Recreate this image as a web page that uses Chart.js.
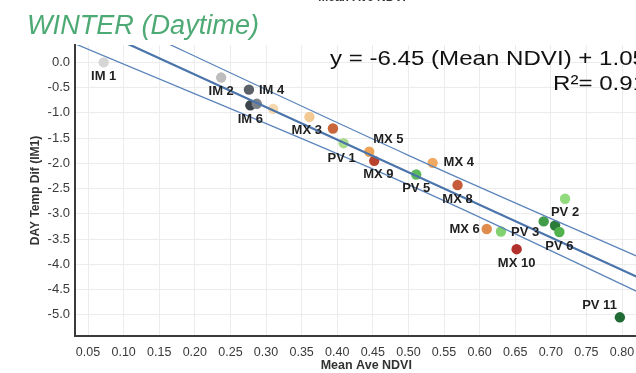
<!DOCTYPE html>
<html>
<head>
<meta charset="utf-8">
<script src="https://cdn.jsdelivr.net/npm/chart.js@4/dist/chart.umd.min.js"></script>
<style>
  html, body { margin: 0; padding: 0; background: #ffffff; overflow: hidden; width: 636px; height: 373px; }
  #wrap { position: absolute; left: 0; top: 0; width: 670px; height: 373px; }
</style>
</head>
<body>
<div id="wrap"><canvas id="c" width="670" height="373"></canvas></div>
<script>
// ---- data ----
const siteLabels = ["IM 1","IM 2","IM 4","IM 6","","","","MX 3","PV 1","MX 5","MX 9","MX 4","PV 5","MX 8","PV 2","","","PV 6","MX 6","PV 3","MX 10","PV 11"];
const ndviValues = [0.072,0.237,0.276,0.278,0.287,0.310,0.361,0.394,0.409,0.445,0.452,0.534,0.511,0.569,0.720,0.690,0.706,0.712,0.610,0.630,0.652,0.797];
const tempDifValues = [0.00,-0.30,-0.54,-0.85,-0.82,-0.92,-1.08,-1.31,-1.60,-1.77,-1.95,-1.99,-2.22,-2.43,-2.70,-3.15,-3.23,-3.36,-3.30,-3.35,-3.70,-5.05];
const pointColors = ["#d6d6d6","#bdbdbd","#5b6168","#3e444b","#7d8288","#f6d8ae","#f3c993","#c9653b","#a9dc8e","#eca257","#b8432e","#f0aa61","#5db95b","#c55b38","#92da7e","#409c49","#2c7b39","#50b14d","#e08c4d","#82d271","#b2302c","#206b35"];
// label placement (pixel offsets from the point) - styling only
const labelOffsets = [[0,14],[0,14],[22,1],[0,14],null,null,null,[-26,2],[-2,15],[16,-12],[1,14],[23,0],[0,14],[0,14],[0,14],null,null,[0,14],[-22,0],[22,1],[0,14],[-18,-12]];

const regSlope = -6.45;
const regIntercept = 1.05;
const bandNdvi = [0.03, 0.50, 0.85];
const bandUpper = [1.245, -1.84, -4.02];
const bandLower = [0.38, -2.42, -4.73];

const xTickValues = [0.05,0.10,0.15,0.20,0.25,0.30,0.35,0.40,0.45,0.50,0.55,0.60,0.65,0.70,0.75,0.80];
const yTickValues = [0.0,-0.5,-1.0,-1.5,-2.0,-2.5,-3.0,-3.5,-4.0,-4.5,-5.0];

const X_MIN = 0.0317, X_MAX = 0.85, Y_MIN = -5.42, Y_MAX = 0.345;

const FONT = '"Liberation Sans", Arial, sans-serif';

const scatterData = ndviValues.map((x, i) => ({ x: x, y: tempDifValues[i] }));
const regData = [X_MIN, X_MAX].map(x => ({ x: x, y: regSlope * x + regIntercept }));
const upperData = bandNdvi.map((x, i) => ({ x: x, y: bandUpper[i] }));
const lowerData = bandNdvi.map((x, i) => ({ x: x, y: bandLower[i] }));

const extraText = {
  id: 'extraText',
  afterDatasetsDraw(chart) {
    const ctx = chart.ctx;
    const xs = chart.scales.x, ys = chart.scales.y;
    // point labels
    ctx.save();
    ctx.font = 'bold 13px ' + FONT;
    ctx.fillStyle = '#1f1f1f';
    ctx.textAlign = 'center';
    ctx.textBaseline = 'middle';
    siteLabels.forEach((lab, i) => {
      if (!lab || !labelOffsets[i]) return;
      const px = xs.getPixelForValue(ndviValues[i]);
      const py = ys.getPixelForValue(tempDifValues[i]);
      const off = labelOffsets[i];
      let ax = px + off[0];
      if (off[0] > 0) { ctx.textAlign = 'left'; ax = px + off[0] - 12; }
      else if (off[0] < -15) { ctx.textAlign = 'right'; ax = px + off[0] + 15; }
      else ctx.textAlign = 'center';
      ctx.fillText(lab, ax, py + off[1]);
    });
    ctx.restore();
  },
  afterDraw(chart) {
    const ctx = chart.ctx;
    ctx.save();
    // Title
    ctx.fillStyle = '#4eaa74';
    ctx.font = 'italic 27px ' + FONT;
    ctx.textBaseline = 'alphabetic';
    ctx.textAlign = 'left';
    const title = 'WINTER (Daytime)';
    let w = ctx.measureText(title).width;
    ctx.save();
    ctx.translate(27, 34);
    ctx.scale(232 / w, 1);
    ctx.fillText(title, 0, 0);
    ctx.restore();
    // equation
    ctx.fillStyle = '#111111';
    ctx.font = '20px ' + FONT;
    const eq = 'y = -6.45 (Mean NDVI) + 1.05';
    w = ctx.measureText(eq).width;
    const sx = 316 / w;
    ctx.save();
    ctx.translate(330, 65);
    ctx.scale(sx, 1);
    ctx.fillText(eq, 0, 0);
    ctx.restore();
    ctx.save();
    ctx.translate(553, 90);
    ctx.scale(sx, 1);
    ctx.fillText('R\u00B2= 0.91', 0, 0);
    ctx.restore();
    // cut-off axis title of the chart above
    ctx.fillStyle = '#333333';
    ctx.font = 'bold 12px ' + FONT;
    ctx.textAlign = 'center';
    ctx.fillText('Mean Ave NDVI', 362, 1);
    ctx.restore();
  }
};

new Chart(document.getElementById('c'), {
  type: 'scatter',
  data: {
    datasets: [
      { type: 'line', data: regData, borderColor: '#4a74aa', borderWidth: 2.2, pointRadius: 0, fill: false, order: 0 },
      { type: 'line', data: upperData, borderColor: '#5c86bb', borderWidth: 1.3, pointRadius: 0, fill: false, cubicInterpolationMode: 'monotone', order: 0 },
      { type: 'line', data: lowerData, borderColor: '#5c86bb', borderWidth: 1.3, pointRadius: 0, fill: false, cubicInterpolationMode: 'monotone', order: 0 },
      { data: scatterData, pointRadius: 5.2, pointHoverRadius: 5.2, pointBackgroundColor: pointColors, pointBorderWidth: 0, borderWidth: 0, order: 1 }
    ]
  },
  options: {
    responsive: false,
    animation: false,
    events: [],
    layout: { padding: { left: 28, top: 45, right: 12.4, bottom: 0 } },
    plugins: { legend: { display: false }, tooltip: { enabled: false }, title: { display: false } },
    scales: {
      x: {
        type: 'linear', min: X_MIN, max: X_MAX,
        afterBuildTicks(scale) { scale.ticks = xTickValues.map(v => ({ value: v })); },
        afterFit(scale) { scale.height = 37; },
        grid: { color: '#ececec', lineWidth: 1, drawTicks: false },
        border: { color: '#3a3a3a', width: 2 },
        ticks: { padding: 9, color: '#3a3a3a', font: { family: FONT, size: 12.5 }, maxRotation: 0, autoSkip: false,
                 callback: v => v.toFixed(2) },
        title: { display: true, text: 'Mean Ave NDVI', color: '#333333', font: { family: FONT, size: 12.5, weight: 'bold' }, padding: { top: 0, bottom: 0 } }
      },
      y: {
        type: 'linear', min: Y_MIN, max: Y_MAX,
        afterBuildTicks(scale) { scale.ticks = yTickValues.map(v => ({ value: v })); },
        afterFit(scale) { scale.width = 47; },
        grid: { color: '#ececec', lineWidth: 1, drawTicks: false },
        border: { color: '#3a3a3a', width: 2 },
        ticks: { padding: 5, color: '#3a3a3a', font: { family: FONT, size: 13 }, autoSkip: false,
                 callback: v => v.toFixed(1) },
        title: { display: true, text: 'DAY Temp Dif (IM1)', color: '#333333', font: { family: FONT, size: 12, weight: 'bold' }, padding: { top: 0, bottom: 0 } }
      }
    }
  },
  plugins: [extraText]
});
</script>
</body>
</html>
